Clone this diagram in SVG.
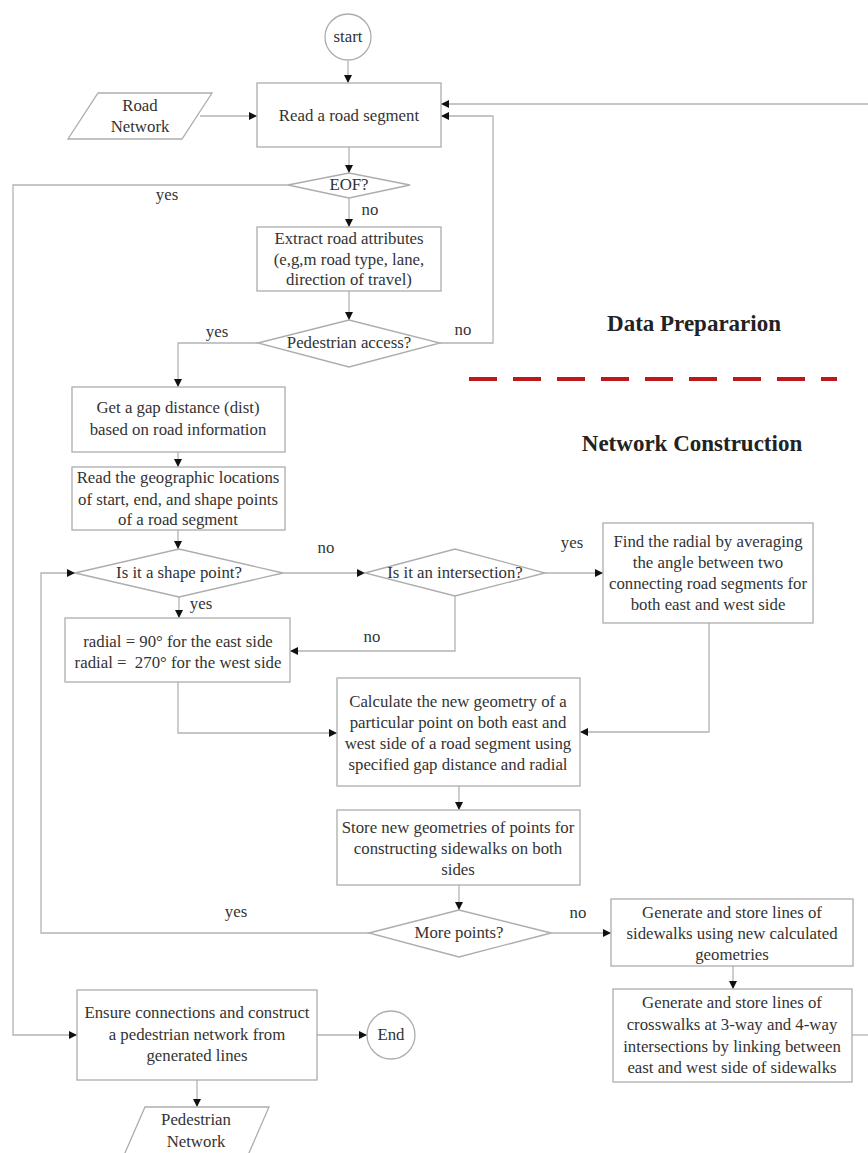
<svg xmlns="http://www.w3.org/2000/svg" width="868" height="1153" viewBox="0 0 868 1153">
<defs>
<marker id="arr" markerUnits="userSpaceOnUse" markerWidth="9" markerHeight="8" refX="8" refY="4" orient="auto">
<path d="M0,0 L8,4 L0,8 z" fill="#111"/>
</marker>
<style>
.n rect,.n polygon,.n circle{fill:#fff;stroke:#adadad;stroke-width:1.3}
text{font-family:"Liberation Serif","Times New Roman",serif;font-size:16.8px;fill:#333;text-anchor:middle}
.c path{fill:none;stroke:#b3b3b3;stroke-width:1.3;marker-end:url(#arr)}
.c path.p{marker-end:none}
.t{font-weight:bold;font-size:23px;fill:#222}
</style>
</defs>
<rect width="868" height="1153" fill="#fff"/>
<g class="c" id="connectors">
<path d="M348,61 V83"/>
<path d="M200,116 H257"/>
<path d="M349,147 V173"/>
<path d="M288,185 H13 V1035 H77"/>
<path d="M349,198 V227"/>
<path d="M349,291 V320"/>
<path d="M440,343 H493 V116 H441"/>
<path d="M258,343 H178 V387"/>
<path d="M178,452 V467"/>
<path d="M178,530 V549"/>
<path d="M283,573 H365"/>
<path d="M179,597 V618"/>
<path d="M545,573 H603"/>
<path d="M455,596 V651 H290"/>
<path d="M709,623 V732 H580"/>
<path d="M178,682 V733 H337"/>
<path d="M459,786 V810"/>
<path d="M459,885 V910"/>
<path d="M369,933 H41 V573 H75"/>
<path d="M551,933 H611"/>
<path d="M733,966 V989"/>
<path class="p" d="M852,1035 H868"/>
<path d="M868,104 H441"/>
<path d="M317,1035 H367"/>
<path d="M197,1080 V1107"/>
</g>
<g id="labels">
<text x="167" y="200">yes</text>
<text x="370" y="215">no</text>
<text x="463" y="335">no</text>
<text x="217" y="337">yes</text>
<text x="326" y="553">no</text>
<text x="572" y="548">yes</text>
<text x="372" y="642">no</text>
<text x="201" y="609">yes</text>
<text x="236" y="917">yes</text>
<text x="578" y="918">no</text>
</g>
<g class="n" id="start"><circle cx="348" cy="37" r="23"/><text x="348" y="42">start</text></g>
<g class="n" id="road-network"><polygon points="98,93 212,93 182,139 68,139"/><text x="140" y="111">Road</text><text x="140" y="132">Network</text></g>
<g class="n" id="read-segment"><rect x="257" y="83" width="184" height="64"/><text x="349" y="121">Read a road segment</text></g>
<g class="n" id="eof"><polygon points="288,185 349,173 410,185 349,198"/><text x="349" y="190">EOF?</text></g>
<g class="n" id="extract"><rect x="257" y="227" width="184" height="64"/><text x="349" y="244">Extract road attributes</text><text x="349" y="265">(e,g,m road type, lane,</text><text x="349" y="285">direction of travel)</text></g>
<g class="n" id="ped-access"><polygon points="258,343 349,320 440,343 349,367"/><text x="349" y="348">Pedestrian access?</text></g>
<g class="n" id="gap"><rect x="72" y="387" width="213" height="65"/><text x="178" y="413">Get a gap distance (dist)</text><text x="178" y="435">based on road information</text></g>
<g class="n" id="geo"><rect x="72" y="467" width="213" height="63"/><text x="178" y="483">Read the geographic locations</text><text x="178" y="505">of start, end, and shape points</text><text x="178" y="525">of a road segment</text></g>
<g class="n" id="shape"><polygon points="75,573 179,549 283,573 179,597"/><text x="179" y="578">Is it a shape point?</text></g>
<g class="n" id="intersection"><polygon points="365,573 455,549 545,573 455,596"/><text x="455" y="578">Is it an intersection?</text></g>
<g class="n" id="find"><rect x="603" y="523" width="210" height="100"/><text x="708" y="547">Find the radial by averaging</text><text x="708" y="568">the angle between two</text><text x="708" y="589">connecting road segments for</text><text x="708" y="610">both east and west side</text></g>
<g class="n" id="radial"><rect x="65" y="618" width="225" height="64"/><text x="178" y="647">radial = 90° for the east side</text><text x="178" y="668" xml:space="preserve">radial =  270° for the west side</text></g>
<g class="n" id="calc"><rect x="337" y="678" width="243" height="108"/><text x="458" y="707">Calculate the new geometry of a</text><text x="458" y="728">particular point on both east and</text><text x="458" y="749">west side of a road segment using</text><text x="458" y="770">specified gap distance and radial</text></g>
<g class="n" id="store"><rect x="337" y="810" width="243" height="75"/><text x="458" y="833">Store new geometries of points for</text><text x="458" y="854">constructing sidewalks on both</text><text x="458" y="875">sides</text></g>
<g class="n" id="more"><polygon points="369,933 459,910 551,933 459,957"/><text x="459" y="938">More points?</text></g>
<g class="n" id="gen-sidewalks"><rect x="611" y="899" width="242" height="67"/><text x="732" y="918">Generate and store lines of</text><text x="732" y="939">sidewalks using new calculated</text><text x="732" y="960">geometries</text></g>
<g class="n" id="gen-crosswalks"><rect x="613" y="989" width="239" height="93"/><text x="732" y="1008">Generate and store lines of</text><text x="732" y="1030">crosswalks at 3-way and 4-way</text><text x="732" y="1052">intersections by linking between</text><text x="732" y="1073">east and west side of sidewalks</text></g>
<g class="n" id="ensure"><rect x="77" y="990" width="240" height="90"/><text x="197" y="1018">Ensure connections and construct</text><text x="197" y="1040">a pedestrian network from</text><text x="197" y="1061">generated lines</text></g>
<g class="n" id="end"><circle cx="391" cy="1035" r="24"/><text x="391" y="1040">End</text></g>
<g class="n" id="ped-network"><polygon points="145,1107 269,1107 245,1162 121,1162"/><text x="196" y="1125">Pedestrian</text><text x="196" y="1147">Network</text></g>
<g id="sections">
<text class="t" x="694" y="331">Data Prepararion</text>
<path d="M469,379 H837" stroke="#c0171d" stroke-width="4" stroke-dasharray="28 16" fill="none"/>
<text class="t" x="692" y="451">Network Construction</text>
</g>
</svg>
